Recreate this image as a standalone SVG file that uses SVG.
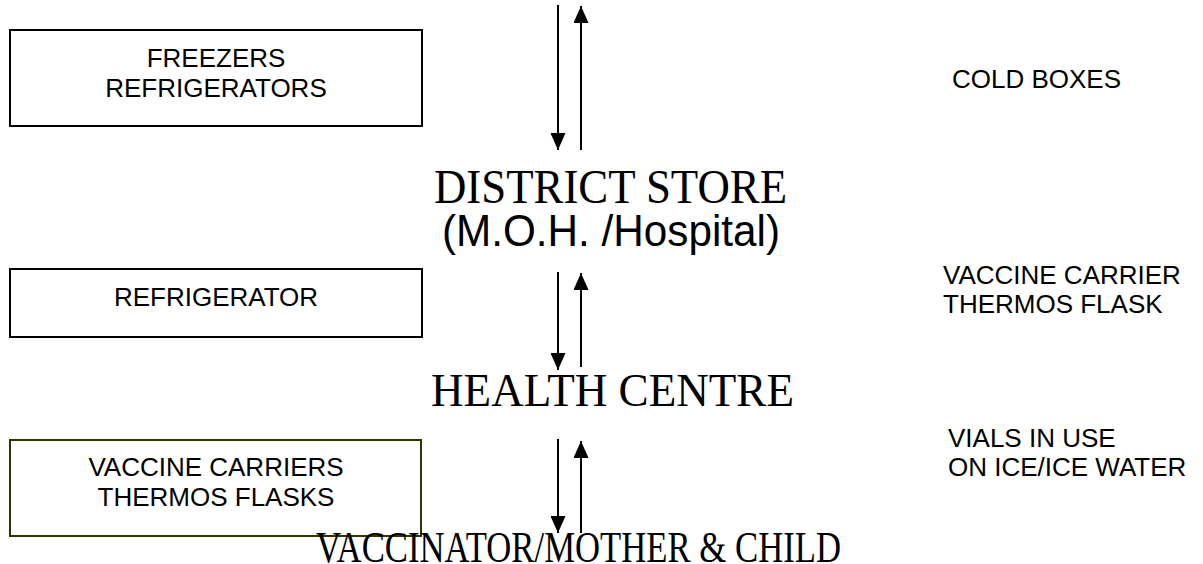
<svg xmlns="http://www.w3.org/2000/svg" width="1203" height="564" viewBox="0 0 1203 564">
  <style>
    .box { fill: #ffffff; stroke: #000000; stroke-width: 2; }
    .box-olive { fill: #ffffff; stroke: #333300; stroke-width: 2; }
    .label { font-family: "Liberation Sans", Arial, sans-serif; font-size: 26px; fill: #000000; }
    .label-mid { text-anchor: middle; }
    .level { font-family: "Liberation Serif", "Times New Roman", serif; fill: #000000; }
    .level-sans { font-family: "Liberation Sans", Arial, sans-serif; fill: #000000; }
    .flow { stroke: #000000; stroke-width: 2; fill: none; }
  </style>
  <defs>
    <marker id="tip" viewBox="0 0 17 15" refX="17" refY="7.5" markerWidth="17" markerHeight="15" markerUnits="userSpaceOnUse" orient="auto">
      <path d="M0,0 L17,7.5 L0,15 Z" fill="#000000"/>
    </marker>
  </defs>

  <!-- equipment boxes on the left -->
  <g id="freezers-box">
    <rect class="box" x="10" y="30" width="412" height="96"/>
    <text class="label label-mid" x="216" y="67">FREEZERS</text>
    <text class="label label-mid" x="216" y="97">REFRIGERATORS</text>
  </g>
  <g id="refrigerator-box">
    <rect class="box" x="10" y="269" width="412" height="68"/>
    <text class="label label-mid" x="216" y="306">REFRIGERATOR</text>
  </g>
  <g id="carriers-box">
    <rect class="box-olive" x="10" y="440" width="411" height="96"/>
    <text class="label label-mid" x="216" y="476">VACCINE CARRIERS</text>
    <text class="label label-mid" x="216" y="506">THERMOS FLASKS</text>
  </g>

  <!-- levels of the cold chain -->
  <g id="district-store">
    <text class="level" x="434" y="203" font-size="48" textLength="353" lengthAdjust="spacingAndGlyphs">DISTRICT STORE</text>
    <text class="level-sans" x="442" y="246" font-size="44" textLength="338" lengthAdjust="spacingAndGlyphs">(M.O.H. /Hospital)</text>
  </g>
  <g id="health-centre">
    <text class="level" x="431" y="406" font-size="46" textLength="363" lengthAdjust="spacingAndGlyphs">HEALTH CENTRE</text>
  </g>
  <g id="vaccinator">
    <text class="level" x="316" y="562" font-size="44" textLength="525" lengthAdjust="spacingAndGlyphs">VACCINATOR/MOTHER &amp; CHILD</text>
  </g>

  <!-- transport equipment on the right -->
  <g id="cold-boxes">
    <text class="label" x="952" y="88">COLD BOXES</text>
  </g>
  <g id="carrier-flask">
    <text class="label" x="943" y="284">VACCINE CARRIER</text>
    <text class="label" x="943" y="313">THERMOS FLASK</text>
  </g>
  <g id="vials">
    <text class="label" x="948" y="447">VIALS IN USE</text>
    <text class="label" x="948" y="476">ON ICE/ICE WATER</text>
  </g>

  <!-- two-way supply arrows between levels -->
  <g id="connectors">
    <line class="flow" x1="558" y1="5" x2="558" y2="150" marker-end="url(#tip)"/>
    <line class="flow" x1="581" y1="150" x2="581" y2="6" marker-end="url(#tip)"/>
    <line class="flow" x1="558" y1="272" x2="558" y2="370" marker-end="url(#tip)"/>
    <line class="flow" x1="581" y1="367" x2="581" y2="273" marker-end="url(#tip)"/>
    <line class="flow" x1="558" y1="439" x2="558" y2="533" marker-end="url(#tip)"/>
    <line class="flow" x1="581" y1="533" x2="581" y2="441" marker-end="url(#tip)"/>
  </g>
</svg>
